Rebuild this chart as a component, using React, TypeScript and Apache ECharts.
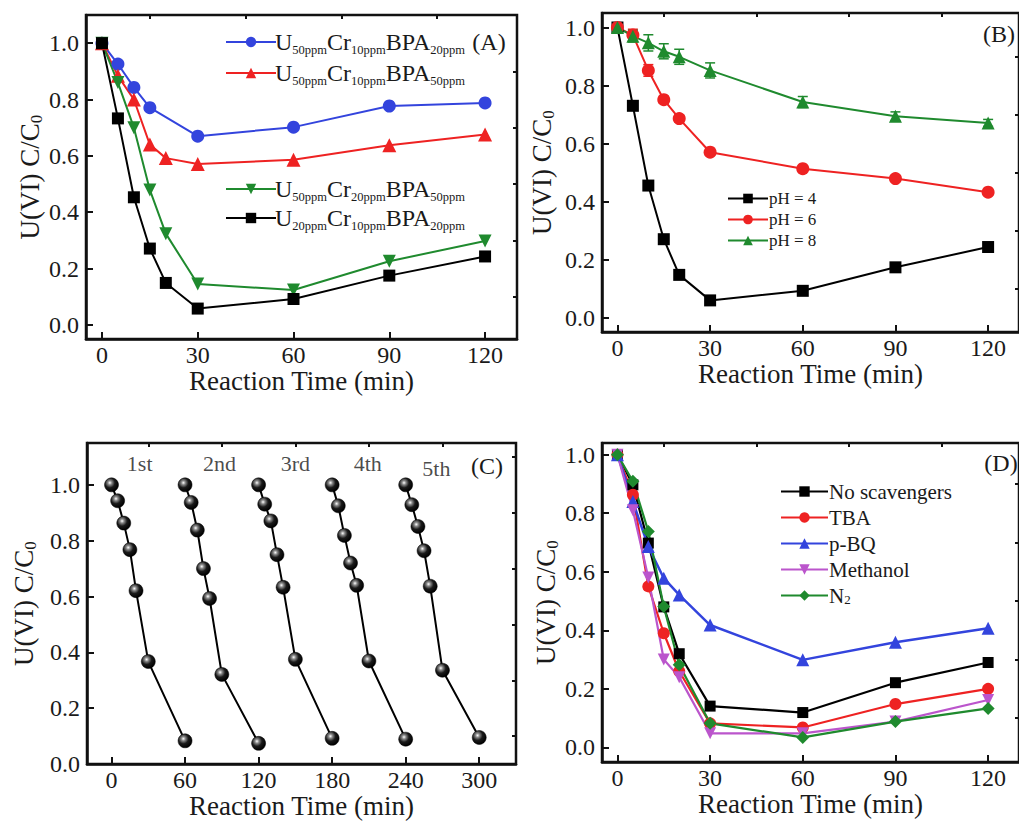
import React, { useEffect, useRef } from "react";
import * as echarts from "echarts";

const FONT = "Liberation Serif";
const TXT = "#1a1a1a";

// ---------- Panel A ----------
const timesA = [0, 5, 10, 15, 20, 30, 60, 90, 120];
const timesBlueA = [0, 5, 10, 15, 30, 60, 90, 120];
const blueA = [1.0, 0.926, 0.843, 0.771, 0.67, 0.702, 0.777, 0.788];
const redA = [1.0, 0.884, 0.8, 0.64, 0.592, 0.571, 0.586, 0.638, 0.676];
const greenA = [1.0, 0.86, 0.7, 0.479, 0.324, 0.145, 0.124, 0.226, 0.298];
const blackA = [1.0, 0.733, 0.453, 0.271, 0.149, 0.058, 0.092, 0.175, 0.243];
const namesA = [
  "U50ppmCr10ppmBPA20ppm",
  "U50ppmCr10ppmBPA50ppm",
  "U50ppmCr20ppmBPA50ppm",
  "U20ppmCr10ppmBPA20ppm",
];

// ---------- Panel B ----------
const timesB = [0, 5, 10, 15, 20, 30, 60, 90, 120];
const ph4 = [1.0, 0.73, 0.455, 0.27, 0.147, 0.059, 0.092, 0.173, 0.243];
const ph6 = [1.0, 0.974, 0.852, 0.751, 0.686, 0.57, 0.513, 0.479, 0.432];
const ph8 = [1.0, 0.97, 0.947, 0.918, 0.899, 0.852, 0.743, 0.694, 0.671];
const ph6Err = [0, 0.02, 0.02, 0.012, 0.012, 0.01, 0.01, 0.01, 0.01];
const ph8Err = [0, 0.02, 0.028, 0.026, 0.026, 0.026, 0.019, 0.015, 0.012];
const namesB = ["pH = 4", "pH = 6", "pH = 8"];

// ---------- Panel C ----------
const cycleTimes = [0, 5, 10, 15, 20, 30, 60];
const cycleOffsets = [0, 60, 120, 180, 240];
const cycleNames = ["1st", "2nd", "3rd", "4th", "5th"];
const cycle1 = [1.0, 0.943, 0.863, 0.768, 0.621, 0.367, 0.083];
const cycle2 = [1.0, 0.937, 0.838, 0.7, 0.593, 0.321, 0.074];
const cycle3 = [1.0, 0.931, 0.871, 0.75, 0.633, 0.375, 0.092];
const cycle4 = [1.0, 0.925, 0.819, 0.72, 0.64, 0.369, 0.089];
const cycle5 = [1.0, 0.929, 0.851, 0.764, 0.637, 0.336, 0.095];
const cycles = [cycle1, cycle2, cycle3, cycle4, cycle5];
const cycleLabelX = [23, 88, 150, 209, 265];
const cycleLabelY = [1.075, 1.075, 1.075, 1.075, 1.06];

// ---------- Panel D ----------
const timesD = [0, 5, 10, 15, 20, 30, 60, 90, 120];
const noScav = [1.0, 0.897, 0.698, 0.48, 0.32, 0.141, 0.119, 0.221, 0.29];
const tba = [1.0, 0.863, 0.55, 0.39, 0.26, 0.082, 0.068, 0.148, 0.2];
const pbq = [1.0, 0.84, 0.686, 0.578, 0.521, 0.418, 0.299, 0.359, 0.407];
const methanol = [1.0, 0.81, 0.58, 0.3, 0.24, 0.048, 0.048, 0.088, 0.162];
const n2 = [1.0, 0.909, 0.738, 0.481, 0.282, 0.082, 0.034, 0.088, 0.133];
const namesD = ["No scavengers", "TBA", "p-BQ", "Methanol", "N2"];

// ---------- ticks ----------
const xMajor120 = [0, 30, 60, 90, 120];
const xMinor120 = [15, 45, 75, 105];
const xMajor300 = [0, 60, 120, 180, 240, 300];
const xMinor300 = [30, 90, 150, 210, 270];
const yMajor = [0, 0.2, 0.4, 0.6, 0.8, 1.0];
const yMinor = [0.1, 0.3, 0.5, 0.7, 0.9];
const yMinorC = [0.1, 0.3, 0.5, 0.7, 0.9, 1.1];

const BLUE = "#3344dd";
const RED = "#ee2222";
const GREEN = "#1f8a2e";
const BLACK = "#000000";
const MAGENTA = "#bb55cc";
const DOWN_TRI = "path://M0,0L10,0L5,9Z";

const zip = (xs: number[], ys: number[]) => xs.map((x, i) => [x, ys[i]]);

const nameRich = {
  m: { fontSize: 27, fontFamily: FONT, color: TXT, lineHeight: 30 },
  s: { fontSize: 17, fontFamily: FONT, color: TXT, verticalAlign: "bottom", lineHeight: 16 },
};

function makeAxes(g: number, c: any) {
  const lineCol = "#111";
  const x = [
    {
      type: "value",
      gridIndex: g,
      min: c.xMin,
      max: c.xMax,
      axisLine: { show: true, onZero: false, lineStyle: { color: lineCol, width: 2.5 } },
      axisTick: { show: true, inside: true, length: 7, customValues: c.xMajor, lineStyle: { color: lineCol, width: 2 } },
      axisLabel: { show: true, customValues: c.xMajor, margin: 4, fontSize: 24, fontFamily: FONT, color: TXT },
      splitLine: { show: false },
      name: "Reaction Time (min)",
      nameLocation: "middle",
      nameGap: 22,
      nameTextStyle: { fontSize: 27, fontFamily: FONT, color: TXT },
    },
    {
      type: "value",
      gridIndex: g,
      min: c.xMin,
      max: c.xMax,
      axisLine: { show: false, onZero: false },
      axisTick: { show: true, inside: true, length: 4, customValues: c.xMinor, lineStyle: { color: lineCol, width: 2 } },
      axisLabel: { show: false },
      splitLine: { show: false },
    },
  ];
  const y = [
    {
      type: "value",
      gridIndex: g,
      min: c.yMin,
      max: c.yMax,
      axisLine: { show: true, onZero: false, lineStyle: { color: lineCol, width: 2.5 } },
      axisTick: { show: true, inside: true, length: 7, customValues: yMajor, lineStyle: { color: lineCol, width: 2 } },
      axisLabel: {
        show: true,
        customValues: yMajor,
        margin: 7,
        fontSize: 24,
        fontFamily: FONT,
        color: TXT,
        formatter: (v: number) => v.toFixed(1),
      },
      splitLine: { show: false },
      name: "{m|U(VI) C/C}{s|0}",
      nameLocation: "middle",
      nameRotate: 90,
      nameGap: c.yNameGap,
      nameTextStyle: { rich: nameRich },
    },
    {
      type: "value",
      gridIndex: g,
      min: c.yMin,
      max: c.yMax,
      axisLine: { show: false, onZero: false },
      axisTick: { show: true, inside: true, length: 4, customValues: c.yMinor, lineStyle: { color: lineCol, width: 2 } },
      axisLabel: { show: false },
      splitLine: { show: false },
    },
  ];
  return { x, y };
}

function lineSeries(g: number, name: string, xs: number[], ys: number[], color: string, symbol: string, size: number, width = 2) {
  return {
    type: "line",
    name,
    xAxisIndex: 2 * g,
    yAxisIndex: 2 * g,
    data: zip(xs, ys),
    symbol,
    symbolSize: size,
    itemStyle: { color },
    lineStyle: { color, width },
    z: 3,
  };
}

function errSeries(g: number, xs: number[], ys: number[], es: number[], color: string) {
  return {
    type: "custom",
    xAxisIndex: 2 * g,
    yAxisIndex: 2 * g,
    data: xs.map((x, i) => [x, ys[i], es[i]]),
    z: 2,
    silent: true,
    renderItem: (_p: any, api: any) => {
      const x = api.value(0);
      const y = api.value(1);
      const e = api.value(2);
      if (!e) return null;
      const t = api.coord([x, y + e]);
      const b = api.coord([x, y - e]);
      const st = { stroke: color, lineWidth: 1.5 };
      return {
        type: "group",
        children: [
          { type: "line", shape: { x1: t[0], y1: t[1], x2: b[0], y2: b[1] }, style: st },
          { type: "line", shape: { x1: t[0] - 5, y1: t[1], x2: t[0] + 5, y2: t[1] }, style: st },
          { type: "line", shape: { x1: b[0] - 5, y1: b[1], x2: b[0] + 5, y2: b[1] }, style: st },
        ],
      };
    },
  };
}

const subFormatter = (name: string) => name.replace(/([A-Za-z]+)(\d+ppm)/g, "{m|$1}{s|$2}");

export default function App() {
  const ref = useRef<HTMLDivElement>(null);
  useEffect(() => {
    document.body.style.margin = "0";
    if (!ref.current) return;
    const chart = echarts.init(ref.current, undefined, { renderer: "svg" });

    const grids = [
      { left: 86, top: 15, width: 431, height: 324 },
      { left: 602, top: 13, width: 425, height: 319 },
      { left: 87, top: 443, width: 429, height: 321 },
      { left: 602, top: 443, width: 429, height: 319 },
    ].map((g) => ({ ...g, show: true, borderColor: "#111", borderWidth: 2.5, backgroundColor: "transparent" }));

    const axA = makeAxes(0, { xMin: -5, xMax: 130, xMajor: xMajor120, xMinor: xMinor120, yMin: -0.05, yMax: 1.1, yMinor, yNameGap: 40 });
    const axB = makeAxes(1, { xMin: -5, xMax: 130, xMajor: xMajor120, xMinor: xMinor120, yMin: -0.05, yMax: 1.05, yMinor, yNameGap: 45 });
    const axC = makeAxes(2, { xMin: -20, xMax: 330, xMajor: xMajor300, xMinor: xMinor300, yMin: 0, yMax: 1.15, yMinor: yMinorC, yNameGap: 48 });
    const axD = makeAxes(3, { xMin: -5, xMax: 130, xMajor: xMajor120, xMinor: xMinor120, yMin: -0.05, yMax: 1.04, yMinor, yNameGap: 41 });

    const ball = {
      type: "radial",
      x: 0.38,
      y: 0.35,
      r: 0.65,
      colorStops: [
        { offset: 0, color: "#ffffff" },
        { offset: 0.22, color: "#8a8a8a" },
        { offset: 0.55, color: "#1a1a1a" },
        { offset: 1, color: "#000000" },
      ],
    };

    const cSeries: any[] = cycles.map((vals, k) => ({
      type: "line",
      name: "cycle" + (k + 1),
      xAxisIndex: 4,
      yAxisIndex: 4,
      data: zip(cycleTimes.map((t) => t + cycleOffsets[k]), vals),
      symbol: "circle",
      symbolSize: 14,
      itemStyle: { color: ball, borderColor: "#000", borderWidth: 0.5 },
      lineStyle: { color: BLACK, width: 2 },
      z: 3,
    }));
    cSeries.push({
      type: "scatter",
      name: "cycleLabels",
      xAxisIndex: 4,
      yAxisIndex: 4,
      symbolSize: 1,
      itemStyle: { color: "transparent" },
      silent: true,
      data: cycleNames.map((n, i) => ({ name: n, value: [cycleLabelX[i], cycleLabelY[i]] })),
      label: { show: true, position: "inside", formatter: "{b}", fontSize: 22, fontFamily: FONT, color: TXT },
    });

    const legendRichA = {
      m: { fontSize: 24, fontFamily: FONT, color: TXT, lineHeight: 28 },
      s: { fontSize: 12.5, fontFamily: FONT, color: TXT, verticalAlign: "bottom", lineHeight: 14 },
    };

    const option: any = {
      animation: false,
      backgroundColor: "#ffffff",
      grid: grids,
      xAxis: [...axA.x, ...axB.x, ...axC.x, ...axD.x],
      yAxis: [...axA.y, ...axB.y, ...axC.y, ...axD.y],
      legend: [
        {
          data: [namesA[0], namesA[1]],
          orient: "vertical",
          left: 220,
          top: 25,
          itemWidth: 50,
          itemHeight: 13,
          itemGap: 5,
          formatter: subFormatter,
          textStyle: { rich: legendRichA, padding: [0, 0, 0, -6] },
        },
        {
          data: [namesA[2], namesA[3]],
          orient: "vertical",
          left: 220,
          top: 172,
          itemWidth: 50,
          itemHeight: 13,
          itemGap: 3,
          formatter: subFormatter,
          textStyle: { rich: legendRichA, padding: [0, 0, 0, -6] },
        },
        {
          data: namesB,
          orient: "vertical",
          left: 722,
          top: 185,
          itemWidth: 40,
          itemHeight: 12,
          itemGap: 4,
          textStyle: { fontSize: 17, fontFamily: FONT, color: TXT, padding: [0, 0, 0, -4] },
        },
        {
          data: namesD,
          orient: "vertical",
          left: 775,
          top: 476,
          itemWidth: 47,
          itemHeight: 13,
          itemGap: 5,
          formatter: (n: string) => (n === "N2" ? "N{s|2}" : n),
          textStyle: {
            fontSize: 21,
            fontFamily: FONT,
            color: TXT,
            padding: [0, 0, 0, -4],
            rich: { s: { fontSize: 13, fontFamily: FONT, color: TXT, verticalAlign: "bottom", lineHeight: 12 } },
          },
        },
      ],
      graphic: [
        { type: "text", x: 489, y: 42, style: { text: "(A)", font: `24px ${FONT}`, fill: TXT, textAlign: "center", textVerticalAlign: "middle" } },
        { type: "text", x: 999, y: 34, style: { text: "(B)", font: `24px ${FONT}`, fill: TXT, textAlign: "center", textVerticalAlign: "middle" } },
        { type: "text", x: 487, y: 466, style: { text: "(C)", font: `24px ${FONT}`, fill: TXT, textAlign: "center", textVerticalAlign: "middle" } },
        { type: "text", x: 1001, y: 463, style: { text: "(D)", font: `24px ${FONT}`, fill: TXT, textAlign: "center", textVerticalAlign: "middle" } },
      ],
      series: [
        // A
        lineSeries(0, namesA[0], timesBlueA, blueA, BLUE, "circle", 13),
        lineSeries(0, namesA[1], timesA, redA, RED, "triangle", 14),
        lineSeries(0, namesA[2], timesA, greenA, GREEN, DOWN_TRI, 13),
        lineSeries(0, namesA[3], timesA, blackA, BLACK, "rect", 12),
        // B
        errSeries(1, timesB, ph6, ph6Err, RED),
        errSeries(1, timesB, ph8, ph8Err, GREEN),
        lineSeries(1, namesB[0], timesB, ph4, BLACK, "rect", 12),
        lineSeries(1, namesB[1], timesB, ph6, RED, "circle", 13),
        lineSeries(1, namesB[2], timesB, ph8, GREEN, "triangle", 13),
        // C
        ...cSeries,
        // D
        lineSeries(3, namesD[0], timesD, noScav, BLACK, "rect", 11, 2.2),
        lineSeries(3, namesD[1], timesD, tba, RED, "circle", 12, 2.2),
        lineSeries(3, namesD[2], timesD, pbq, BLUE, "triangle", 13, 2.5),
        lineSeries(3, namesD[3], timesD, methanol, MAGENTA, DOWN_TRI, 12, 2.2),
        lineSeries(3, namesD[4], timesD, n2, GREEN, "diamond", 13, 2.2),
      ],
    };
    chart.setOption(option);
    return () => chart.dispose();
  }, []);
  return <div ref={ref} style={{ width: 1019, height: 824 }} />;
}
